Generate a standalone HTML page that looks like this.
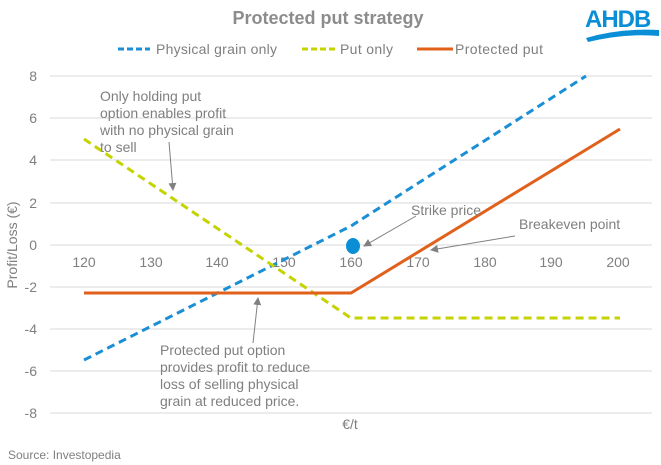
<!DOCTYPE html>
<html><head><meta charset="utf-8"><style>
html,body{margin:0;padding:0;background:#fff;}
svg{display:block;font-family:"Liberation Sans",Arial,sans-serif;}
</style></head><body>
<svg width="661" height="465" viewBox="0 0 661 465">
<defs><marker id="ar" markerWidth="8" markerHeight="8" refX="7" refY="4" orient="auto"><path d="M0,0 L8,4 L0,8 z" fill="#808080"/></marker></defs>
<text x="328" y="24" text-anchor="middle" font-size="18" font-weight="bold" fill="#8c8c8c">Protected put strategy</text>
<text x="585" y="27" font-size="24" font-weight="bold" fill="#0a8fd6" letter-spacing="-1">AHDB</text>
<path d="M586,38 Q620,28 659,30 L659,36 Q625,33 588,42 z" fill="#0a8fd6"/>
<line x1="118" y1="49" x2="150" y2="49" stroke="#1a8fd6" stroke-width="3" stroke-dasharray="6,3"/>
<text x="156" y="54" font-size="14" fill="#7f7f7f" textLength="121">Physical grain only</text>
<line x1="302" y1="49" x2="335" y2="49" stroke="#c5d300" stroke-width="3" stroke-dasharray="6,3"/>
<text x="340" y="54" font-size="14" fill="#7f7f7f" textLength="53">Put only</text>
<line x1="417" y1="49" x2="453" y2="49" stroke="#e0601c" stroke-width="3"/>
<text x="455" y="54" font-size="14" fill="#7f7f7f" textLength="88">Protected put</text>
<g stroke="#d9d9d9" stroke-width="1">
<line x1="50" y1="76" x2="652" y2="76"/><line x1="50" y1="118" x2="652" y2="118"/>
<line x1="50" y1="160" x2="652" y2="160"/><line x1="50" y1="203" x2="652" y2="203"/>
<line x1="50" y1="245" x2="652" y2="245"/><line x1="50" y1="287" x2="652" y2="287"/>
<line x1="50" y1="329" x2="652" y2="329"/><line x1="50" y1="371" x2="652" y2="371"/>
<line x1="50" y1="413" x2="652" y2="413"/>
</g>
<g font-size="14" fill="#7f7f7f" text-anchor="end">
<text x="37" y="81">8</text><text x="37" y="123">6</text><text x="37" y="165">4</text>
<text x="37" y="208">2</text><text x="37" y="250">0</text><text x="37" y="292">-2</text>
<text x="37" y="334">-4</text><text x="37" y="376">-6</text><text x="37" y="418">-8</text>
</g>
<g font-size="14" fill="#7f7f7f" text-anchor="middle">
<text x="84" y="267">120</text><text x="151" y="267">130</text><text x="217" y="267">140</text>
<text x="284" y="267">150</text><text x="351" y="267">160</text><text x="418" y="267">170</text>
<text x="485" y="267">180</text><text x="551" y="267">190</text><text x="618" y="267">200</text>
<text x="350" y="429">€/t</text>
</g>
<text transform="translate(17,245) rotate(-90)" font-size="14" fill="#7f7f7f" text-anchor="middle">Profit/Loss (€)</text>
<text x="8" y="459" font-size="12" fill="#7f7f7f">Source: Investopedia</text>
<polyline points="84,360 351,226 586,76" fill="none" stroke="#1a8fd6" stroke-width="3" stroke-dasharray="8,5"/>
<polyline points="84,139 351,318 620,318" fill="none" stroke="#c5d300" stroke-width="3" stroke-dasharray="8,5"/>
<polyline points="84,293 351,293 620,129" fill="none" stroke="#e0601c" stroke-width="3"/>
<ellipse cx="353" cy="246" rx="7" ry="8" fill="#0a8fd6"/>
<g font-size="14" fill="#7f7f7f">
<text x="100" y="101">Only holding put</text><text x="100" y="118">option enables profit</text>
<text x="100" y="135">with no physical grain</text><text x="100" y="152">to sell</text>
<text x="411" y="215">Strike price</text>
<text x="519" y="229">Breakeven point</text>
<text x="160" y="355">Protected put option</text><text x="160" y="372">provides profit to reduce</text>
<text x="160" y="389">loss of selling physical</text><text x="160" y="406">grain at reduced price.</text>
</g>
<g stroke="#808080" stroke-width="1" fill="none" marker-end="url(#ar)">
<line x1="169" y1="142" x2="173" y2="190"/>
<line x1="416" y1="216" x2="364" y2="246"/>
<line x1="515" y1="236" x2="431" y2="250"/>
<line x1="253" y1="343" x2="258" y2="298"/>
</g>
</svg>
</body></html>
